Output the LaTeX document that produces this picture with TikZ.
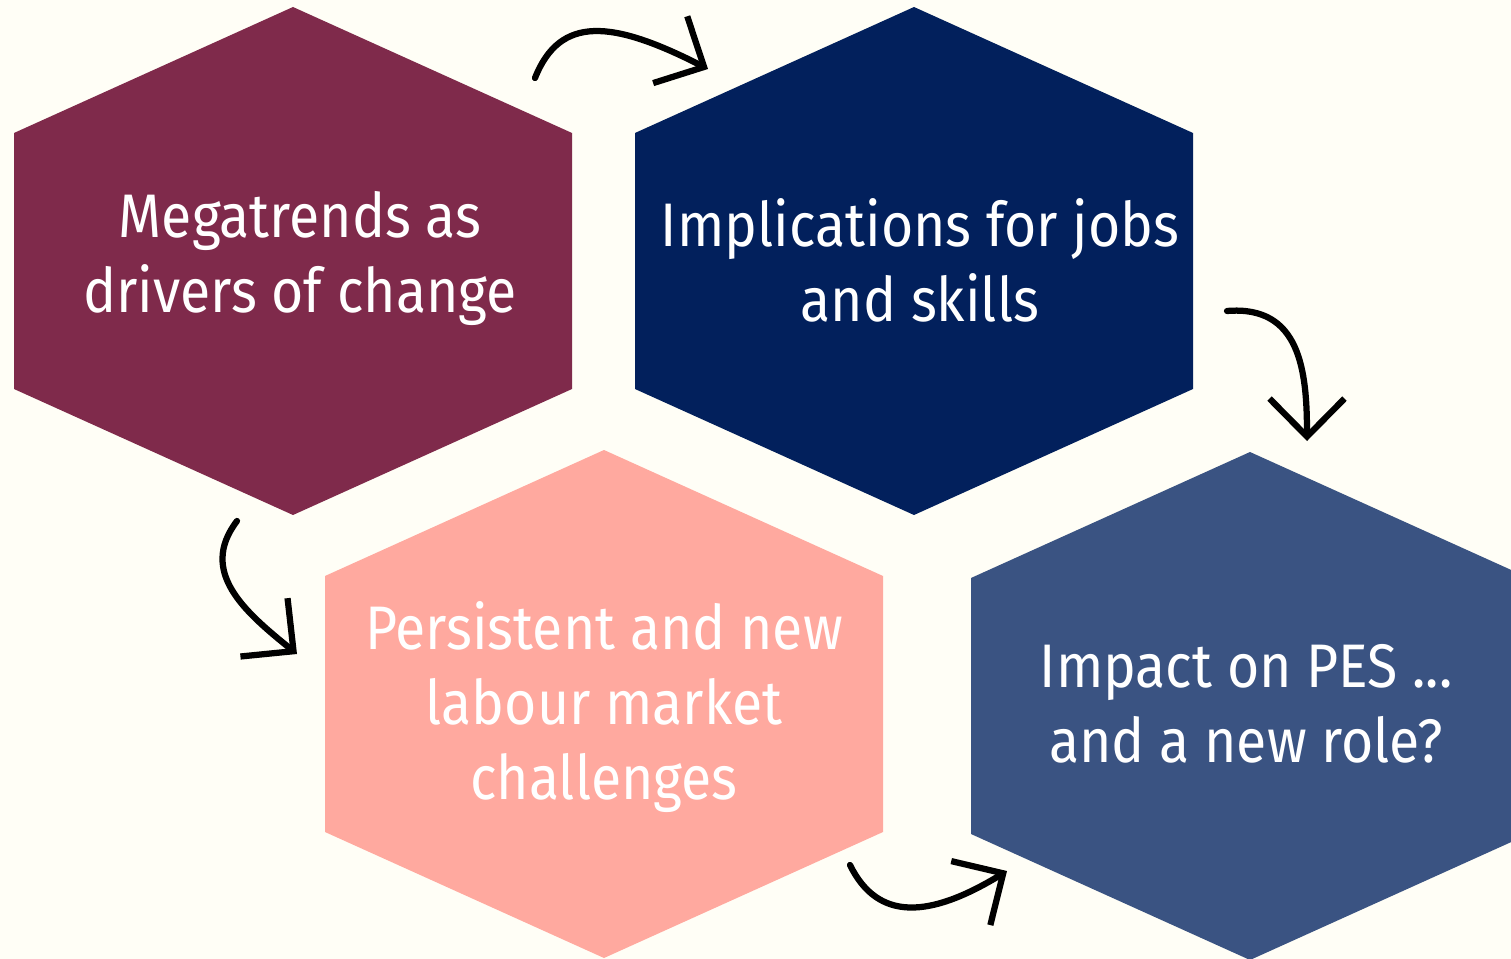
\documentclass[tikz,border=0pt]{standalone}
\usepackage{fontspec}
\setmainfont{Fira Sans}[FakeStretch=0.9]
\usetikzlibrary{arrows.meta}
\definecolor{bgc}{HTML}{FFFEF6}
\definecolor{maroon}{HTML}{7F2A4B}
\definecolor{navy}{HTML}{02205C}
\definecolor{salmon}{HTML}{FFA99F}
\definecolor{steel}{HTML}{3A5382}
\tikzset{
  hextext/.style={text=white, align=center, font=\fontsize{35}{42.7}\selectfont, inner sep=0pt},
  flow/.style={line width=0.125cm, line cap=round, black,
    -{Straight Barb[length=0.76cm,width=1.5cm,line width=0.125cm]}},
}
\newcommand\hexfill[3]{%
  \fill[#3] (#1,#2) ++(-279,-128) -- ++(279,-126) -- ++(279,126) -- ++(0,256)
    -- ++(-279,126) -- ++(-279,-126) -- cycle;}
\begin{document}
\begin{tikzpicture}[x=0.02cm,y=-0.02cm]
\useasboundingbox[fill=bgc] (0,0) rectangle (1511,959);
\clip (0,0) rectangle (1511,959);
\hexfill{293}{261}{maroon}
\hexfill{914}{261}{navy}
\hexfill{604}{704}{salmon}
\hexfill{1250}{706}{steel}
\node[hextext] (mega) at (300,258) {Megatrends as\\drivers of change};
\node[hextext] (impl) at (920,260) {Implications for jobs\\and skills};
\node[hextext] (pers) at (604,707) {Persistent and new\\labour market\\challenges};
\node[hextext] (impa) at (1246,704) {Impact on PES ...\\and a new role?};
\coordinate (a1s) at (535,78);  \coordinate (a1e) at (708,69);
\coordinate (a2s) at (1227,311); \coordinate (a2e) at (1307,441);
\coordinate (a3s) at (237,521); \coordinate (a3e) at (297,654);
\coordinate (a4s) at (850,865); \coordinate (a4e) at (1007,871);
\draw[flow] (a1s) .. controls (560,15) and (612,20) .. (a1e);
\draw[flow] (a2s) .. controls (1300,305) and (1307,370) .. (a2e);
\draw[flow] (a3s) .. controls (198,572) and (245,612) .. (a3e);
\draw[flow] (a4s) .. controls (878,922) and (930,918) .. (a4e);
\end{tikzpicture}
\end{document}
